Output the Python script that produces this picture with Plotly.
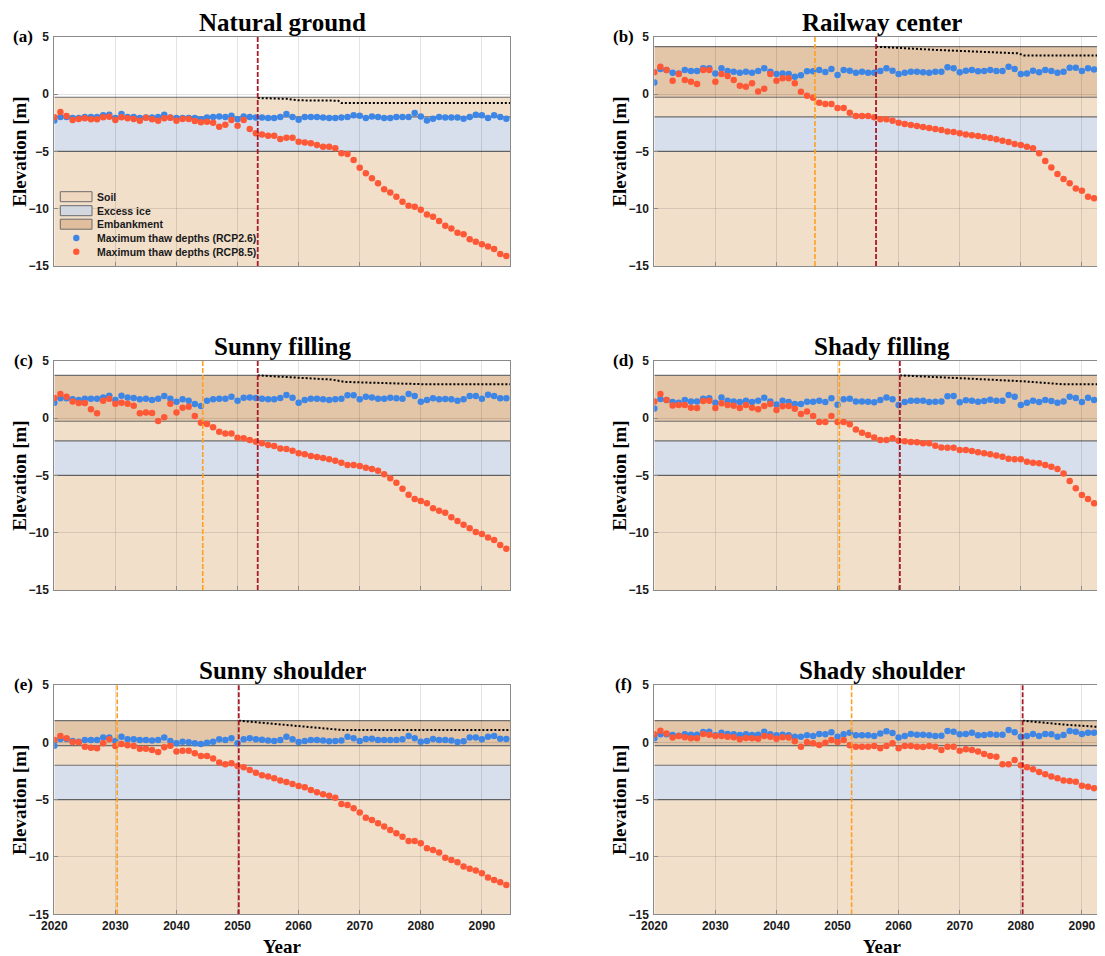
import plotly.graph_objects as go

# ---------------- data ----------------
years = list(range(2020, 2095))

titles = ["Natural ground", "Railway center", "Sunny filling",
          "Shady filling", "Sunny shoulder", "Shady shoulder"]
tags = ["(a)", "(b)", "(c)", "(d)", "(e)", "(f)"]

rcp26_a = [-2.3, -2.0, -2.0, -2.1, -2.1, -2.0, -2.0, -2.0, -1.85, -1.8,
           -2.1, -1.75, -2.0, -2.0, -2.1, -2.05, -2.05, -2.0, -1.8, -2.05,
           -2.1, -2.1, -2.1, -2.1, -2.2, -2.05, -2.0, -1.95, -2.0, -1.9,
           -2.2, -1.95, -2.0, -2.05, -2.05, -2.1, -2.1, -2.0, -1.75, -2.0,
           -2.25, -2.0, -2.0, -2.0, -2.05, -2.1, -2.1, -2.05, -2.0, -1.85,
           -1.9, -2.1, -1.95, -2.0, -2.1, -2.1, -2.0, -2.0, -2.0, -1.65,
           -1.95, -2.3, -2.15, -2.0, -2.05, -2.05, -2.05, -2.15, -2.0, -1.8,
           -1.85, -2.1, -1.85, -2.0, -2.15]
rcp85_a = [-2.03, -1.57, -1.92, -2.27, -2.18, -2.12, -2.2, -2.2, -2.03, -1.98,
           -2.27, -2.03, -2.12, -2.18, -2.33, -2.06, -2.2, -2.33, -2.12, -2.06,
           -2.33, -2.18, -2.18, -2.35, -2.47, -2.41, -2.5, -2.85, -2.67, -2.27,
           -2.76, -2.27, -3.05, -3.43, -3.52, -3.63, -3.63, -3.92, -3.81, -3.81,
           -4.16, -4.22, -4.3, -4.45, -4.59, -4.59, -4.74, -5.17, -5.23, -5.76,
           -6.42, -6.92, -7.35, -7.79, -8.31, -8.6, -8.95, -9.39, -9.74, -9.83,
           -10.1, -10.5, -10.7, -11.08, -11.48, -11.72, -12.09, -12.24, -12.67, -12.88,
           -13.11, -13.31, -13.52, -13.95, -14.13]

rcp26_b = [1.0, 2.18, 2.1, 1.86, 1.8, 2.1, 2.0, 2.0, 2.24, 2.24,
           1.8, 2.24, 2.0, 1.95, 1.86, 1.95, 1.86, 2.0, 2.24, 1.95,
           1.74, 1.8, 1.74, 1.5, 1.63, 1.98, 1.98, 2.1, 1.92, 2.18,
           1.66, 2.1, 2.03, 1.86, 1.95, 1.86, 1.86, 2.0, 2.24, 2.03,
           1.74, 1.86, 1.95, 1.95, 1.89, 1.86, 1.95, 1.95, 2.33, 2.24,
           1.89, 2.03, 2.1, 1.98, 2.0, 2.1, 2.0, 2.0, 2.38, 2.18,
           1.74, 1.8, 2.03, 1.89, 2.1, 2.0, 1.86, 1.95, 2.3, 2.3,
           2.0, 2.24, 2.15, 1.95, 2.0]
rcp85_b = [1.89, 2.38, 2.1, 1.16, 1.74, 1.22, 1.08, 0.87, 2.1, 2.1,
           1.08, 1.74, 1.57, 1.22, 0.73, 0.64, 0.93, 0.23, 0.47, 1.74,
           1.16, 1.37, 1.37, 0.93, 0.2, -0.15, -0.32, -0.76, -0.87, -0.87,
           -1.22, -1.22, -1.63, -1.92, -1.92, -1.92, -2.03, -2.2, -2.2, -2.33,
           -2.5, -2.62, -2.7, -2.79, -2.88, -2.97, -3.05, -3.14, -3.26, -3.31,
           -3.43, -3.52, -3.6, -3.66, -3.75, -3.84, -3.95, -4.07, -4.19, -4.36,
           -4.45, -4.59, -4.74, -5.17, -5.84, -6.4, -6.98, -7.41, -7.79, -8.23,
           -8.43, -8.95, -9.1, -9.39, -9.83]

rcp26_c = [1.34, 1.72, 1.72, 1.63, 1.57, 1.69, 1.69, 1.69, 1.8, 1.95,
           1.57, 1.95, 1.8, 1.74, 1.63, 1.69, 1.57, 1.69, 1.92, 1.69,
           1.42, 1.63, 1.51, 1.22, 1.05, 1.51, 1.63, 1.69, 1.69, 1.86,
           1.51, 1.77, 1.8, 1.74, 1.69, 1.63, 1.63, 1.74, 2.0, 1.77,
           1.34, 1.57, 1.69, 1.69, 1.63, 1.57, 1.63, 1.69, 1.98, 1.98,
           1.63, 1.86, 1.8, 1.69, 1.69, 1.77, 1.72, 1.69, 2.09, 1.92,
           1.42, 1.57, 1.72, 1.63, 1.66, 1.63, 1.51, 1.63, 1.92, 1.92,
           1.69, 2.03, 1.92, 1.72, 1.72]
rcp85_c = [1.74, 2.09, 1.86, 1.45, 1.31, 1.31, 0.76, 0.41, 1.51, 1.69,
           1.25, 1.34, 1.25, 1.08, 0.41, 0.49, 0.44, -0.26, 0.06, 1.25,
           0.49, 0.9, 0.99, 0.17, -0.41, -0.52, -0.81, -1.19, -1.34, -1.34,
           -1.72, -1.77, -1.92, -2.06, -2.21, -2.35, -2.44, -2.65, -2.7, -2.85,
           -3.08, -3.17, -3.31, -3.4, -3.49, -3.6, -3.72, -3.9, -4.1, -4.1,
           -4.19, -4.33, -4.45, -4.59, -4.91, -5.26, -5.64, -6.16, -6.69, -7.06,
           -7.24, -7.44, -7.88, -8.08, -8.26, -8.66, -8.98, -9.3, -9.62, -9.94,
           -10.12, -10.41, -10.64, -11.08, -11.4]

rcp26_d = [0.84, 1.66, 1.57, 1.4, 1.34, 1.57, 1.45, 1.45, 1.69, 1.72,
           1.34, 1.8, 1.51, 1.45, 1.4, 1.51, 1.4, 1.51, 1.77, 1.45,
           1.19, 1.51, 1.4, 1.22, 1.22, 1.42, 1.42, 1.51, 1.4, 1.72,
           1.16, 1.63, 1.69, 1.45, 1.45, 1.42, 1.37, 1.57, 1.8, 1.63,
           1.13, 1.4, 1.51, 1.51, 1.51, 1.4, 1.42, 1.45, 1.89, 1.92,
           1.37, 1.54, 1.51, 1.42, 1.48, 1.6, 1.51, 1.51, 2.0, 1.86,
           1.13, 1.34, 1.51, 1.4, 1.57, 1.48, 1.34, 1.45, 1.86, 1.74,
           1.4, 1.77, 1.57, 1.45, 1.5]
rcp85_d = [1.45, 2.09, 1.57, 1.1, 1.13, 1.13, 0.9, 0.87, 1.48, 1.51,
           0.87, 1.28, 1.13, 1.08, 0.87, 1.13, 0.9, 0.76, 1.05, 1.22,
           0.7, 1.02, 1.05, 0.81, 0.35, 0.58, 0.17, -0.35, -0.35, 0.17,
           -0.35, -0.35, -0.55, -0.99, -1.28, -1.48, -1.69, -1.92, -1.92, -1.77,
           -1.98, -2.03, -2.09, -2.12, -2.21, -2.21, -2.41, -2.56, -2.59, -2.59,
           -2.79, -2.79, -2.88, -2.99, -3.08, -3.17, -3.26, -3.37, -3.55, -3.6,
           -3.6, -3.81, -3.9, -3.95, -4.1, -4.24, -4.45, -4.83, -5.49, -6.13,
           -6.72, -7.06, -7.44, -7.88, -8.23]

rcp26_e = [-0.29, 0.29, 0.29, 0.12, 0.06, 0.2, 0.2, 0.2, 0.41, 0.41,
           0.12, 0.49, 0.26, 0.26, 0.2, 0.2, 0.15, 0.2, 0.41, 0.12,
           -0.09, 0.06, 0.0, -0.09, -0.15, -0.03, 0.06, 0.26, 0.2, 0.35,
           -0.09, 0.26, 0.35, 0.26, 0.23, 0.15, 0.12, 0.2, 0.49, 0.26,
           0.03, 0.12, 0.2, 0.2, 0.15, 0.09, 0.12, 0.15, 0.49, 0.35,
           0.12, 0.29, 0.32, 0.2, 0.2, 0.2, 0.2, 0.26, 0.55, 0.35,
           0.06, 0.12, 0.29, 0.2, 0.2, 0.15, 0.03, 0.09, 0.41, 0.41,
           0.26, 0.49, 0.55, 0.32, 0.29]
rcp85_e = [0.2, 0.55, 0.35, 0.03, 0.0, -0.38, -0.47, -0.52, -0.09, 0.26,
           -0.32, -0.15, -0.26, -0.32, -0.55, -0.55, -0.67, -0.84, -0.44, -0.29,
           -0.81, -0.73, -0.73, -0.96, -1.19, -1.19, -1.4, -1.77, -1.92, -1.83,
           -2.06, -2.18, -2.41, -2.65, -2.88, -2.99, -3.14, -3.34, -3.46, -3.63,
           -3.81, -3.92, -4.16, -4.36, -4.53, -4.65, -4.83, -5.38, -5.47, -5.76,
           -6.13, -6.57, -6.77, -7.06, -7.35, -7.65, -7.94, -8.23, -8.6, -8.6,
           -8.81, -9.24, -9.39, -9.62, -10.06, -10.26, -10.47, -10.84, -11.02, -11.19,
           -11.42, -11.8, -12.0, -12.21, -12.44]

rcp26_f = [0.35, 0.7, 0.7, 0.64, 0.58, 0.7, 0.67, 0.67, 0.9, 0.93,
           0.61, 0.84, 0.73, 0.7, 0.64, 0.7, 0.64, 0.67, 0.93, 0.7,
           0.61, 0.67, 0.61, 0.49, 0.49, 0.61, 0.55, 0.73, 0.7, 0.87,
           0.49, 0.7, 0.84, 0.61, 0.61, 0.61, 0.55, 0.78, 0.96, 0.81,
           0.41, 0.55, 0.73, 0.67, 0.67, 0.61, 0.55, 0.58, 0.99, 0.93,
           0.7, 0.73, 0.84, 0.61, 0.64, 0.7, 0.67, 0.67, 1.08, 0.87,
           0.49, 0.55, 0.73, 0.55, 0.73, 0.7, 0.49, 0.64, 0.99, 0.93,
           0.73, 0.84, 0.84, 0.55, 0.6]
rcp85_f = [0.7, 1.02, 0.78, 0.41, 0.55, 0.44, 0.35, 0.35, 0.73, 0.67,
           0.55, 0.55, 0.49, 0.44, 0.26, 0.38, 0.35, 0.32, 0.55, 0.49,
           0.32, 0.44, 0.41, 0.09, -0.38, 0.0, -0.09, -0.23, -0.03, 0.2,
           0.03, 0.2, -0.26, -0.38, -0.38, -0.38, -0.32, -0.52, -0.32, -0.09,
           -0.52, -0.32, -0.32, -0.38, -0.41, -0.32, -0.38, -0.67, -0.38, -0.38,
           -0.73, -0.61, -0.67, -0.81, -1.02, -1.19, -1.25, -1.92, -1.92, -1.54,
           -2.0, -2.18, -2.35, -2.59, -2.79, -2.99, -3.14, -3.34, -3.37, -3.43,
           -3.78, -3.87, -4.01, -4.16, -4.27]

# critical years (vertical dashed lines): RCP2.6 (orange) and RCP8.5 (dark red)
crit_rcp26 = [None, 2046.3, 2044.3, 2050.3, 2030.3, 2052.3]
crit_rcp85 = [2053.3, 2056.3, 2053.3, 2060.2, 2050.2, 2080.3]

# surface settlement after thawing reaches the ice layer (dotted line)
settle_x = [[2053.3, 2058, 2060, 2066.5, 2067, 2094.6],
            [2056.3, 2060, 2066, 2072, 2079.5, 2080.5, 2094.6],
            [2053.3, 2058, 2065.5, 2067.5, 2080, 2081, 2094.6],
            [2060.2, 2066, 2073, 2080.5, 2086, 2087, 2094.6],
            [2050.2, 2055, 2060, 2066, 2067, 2094.6],
            [2080.3, 2083, 2087, 2092, 2094.6]]
settle_y = [[-0.35, -0.42, -0.55, -0.58, -0.78, -0.78],
            [4.13, 4.0, 3.85, 3.72, 3.55, 3.37, 3.37],
            [3.72, 3.6, 3.35, 3.15, 3.0, 2.94, 2.94],
            [3.72, 3.6, 3.4, 3.2, 3.0, 2.94, 2.94],
            [1.89, 1.65, 1.42, 1.15, 1.08, 1.08],
            [1.89, 1.75, 1.55, 1.37, 1.3]]

# layer boundaries [m]
embankment_top = [None, 4.13, 3.72, 3.72, 1.89, 1.89]
ground_surface = -0.28
ice_top = -2.0
ice_bottom = -5.0
model_bottom = -15.0

rcp26 = [rcp26_a, rcp26_b, rcp26_c, rcp26_d, rcp26_e, rcp26_f]
rcp85 = [rcp85_a, rcp85_b, rcp85_c, rcp85_d, rcp85_e, rcp85_f]

# ---------------- style ----------------
WIN_W, WIN_H = 1105, 956
BODY = 8                      # default page margin around the plot div
W, H = WIN_W - BODY, WIN_H - BODY
C_SOIL = "#F1DFCA"
C_ICE = "#D6DFEB"
C_EMB = "#E3C6A8"
C_BLUE = "#3E86E6"
C_RED = "#FF5836"
C_ORANGE = "#FFA11E"
C_DARKRED = "#A81A28"
C_EDGE = "#6E6E6E"
SERIF = "Liberation Serif"
SANS = "Liberation Sans"


def px(xw):
    return (xw - BODY) / W


def py(yw):
    return 1 - (yw - BODY) / H


left_px = [54.3, 654.3]
px_per_year = (510.0 - 54.3) / 74.6
row_top_px = [36.7, 360.7, 685.0]
row_bot_px = [266.0, 590.0, 914.3]

fig = go.Figure()
layout_axes = {}
shapes = []
annotations = []

for i in range(6):
    row, col = i // 2, i % 2
    n = i + 1
    xa = "x" if n == 1 else f"x{n}"
    ya = "y" if n == 1 else f"y{n}"
    x0px = left_px[col]
    x1px = min(x0px + 74.6 * px_per_year, WIN_W)
    xmax = 2020 + (x1px - x0px) / px_per_year
    xdom = [px(x0px), min(px(x1px), 1.0)]
    ydom = [py(row_bot_px[row]), py(row_top_px[row])]

    axis_common = dict(
        ticks="inside", ticklen=4, tickcolor="#8a8a8a",
        showline=True, linecolor="#8a8a8a", linewidth=1,
        showgrid=True, gridcolor="rgba(0,0,0,0.11)", gridwidth=1,
        zeroline=False, automargin=False,
        tickfont=dict(family=SANS, size=12, color="#1a1a1a", weight="bold"),
    )
    layout_axes["xaxis" if n == 1 else f"xaxis{n}"] = dict(
        domain=xdom, range=[2020, xmax], anchor=ya,
        tick0=2020, dtick=10, mirror=True, showticklabels=(row == 2), **axis_common)
    layout_axes["yaxis" if n == 1 else f"yaxis{n}"] = dict(
        domain=ydom, range=[-15, 5], anchor=xa,
        tickvals=[-15, -10, -5, 0, 5], mirror=(col == 0), ticklabelstandoff=2, **axis_common)

    def band(y0, y1, color):
        shapes.append(dict(type="rect", xref=xa, yref=ya, x0=2020, x1=2094.6, y0=y0, y1=y1,
                           fillcolor=color, line_width=0, layer="below"))
    band(model_bottom, ice_bottom, C_SOIL)
    band(ice_bottom, ice_top, C_ICE)
    band(ice_top, ground_surface, C_SOIL)
    bounds = [ice_bottom, ice_top, ground_surface]
    if embankment_top[i] is not None:
        band(ground_surface, embankment_top[i], C_EMB)
        bounds.append(embankment_top[i])
    for b in bounds:
        shapes.append(dict(type="line", xref=xa, yref=ya, x0=2020, x1=2094.6, y0=b, y1=b,
                           line=dict(color=C_EDGE, width=1.2), layer="below"))

    fig.add_trace(go.Scatter(x=years, y=rcp26[i], mode="markers", xaxis=xa, yaxis=ya,
                             marker=dict(color=C_BLUE, size=6.5, line_width=0),
                             showlegend=False, name="Maximum thaw depths (RCP2.6)"))
    fig.add_trace(go.Scatter(x=years, y=rcp85[i], mode="markers", xaxis=xa, yaxis=ya,
                             marker=dict(color=C_RED, size=6.5, line_width=0),
                             showlegend=False, name="Maximum thaw depths (RCP8.5)"))
    fig.add_trace(go.Scatter(x=settle_x[i], y=settle_y[i], mode="lines", xaxis=xa, yaxis=ya,
                             line=dict(color="black", width=2, dash="2px,2px"),
                             showlegend=False))
    if crit_rcp26[i] is not None:
        fig.add_trace(go.Scatter(x=[crit_rcp26[i]] * 2, y=[-15, 5], mode="lines", xaxis=xa, yaxis=ya,
                                 line=dict(color=C_ORANGE, width=1.6, dash="5px,2px"),
                                 showlegend=False))
    fig.add_trace(go.Scatter(x=[crit_rcp85[i]] * 2, y=[-15, 5], mode="lines", xaxis=xa, yaxis=ya,
                             line=dict(color=C_DARKRED, width=1.8, dash="5px,2px"),
                             showlegend=False))

    cxw = x0px + 74.6 * px_per_year / 2
    annotations.append(dict(text=titles[i], xref="paper", yref="paper", x=px(cxw), y=ydom[1],
                            xanchor="center", yanchor="bottom", yshift=-1, showarrow=False,
                            font=dict(family=SERIF, size=25, color="black", weight="bold")))
    annotations.append(dict(text=tags[i], xref="paper", yref="paper", x=px(x0px - 31),
                            y=py(row_top_px[row] - 0.5), xanchor="center", yanchor="middle",
                            showarrow=False,
                            font=dict(family=SERIF, size=17, color="black", weight="bold")))
    annotations.append(dict(text="Elevation [m]", xref="paper", yref="paper", x=px(x0px - 35),
                            y=(ydom[0] + ydom[1]) / 2, xanchor="center", yanchor="middle",
                            textangle=-90, showarrow=False,
                            font=dict(family=SERIF, size=19, color="black", weight="bold")))
    if row == 2:
        annotations.append(dict(text="Year", xref="paper", yref="paper", x=px(cxw),
                                y=py(946.0), xanchor="center", yanchor="middle",
                                showarrow=False,
                                font=dict(family=SERIF, size=19, color="black", weight="bold")))

# ---------------- legend (inside panel a) ----------------
legend_labels = ["Soil", "Excess ice", "Embankment",
                 "Maximum thaw depths (RCP2.6)", "Maximum thaw depths (RCP8.5)"]
legend_fill = ["#F0D8C0", "#D3D7DF", "#E1BF9E", C_BLUE, C_RED]
leg_y = [196.7, 210.7, 224.2, 238.0, 251.7]
for lab, colr, yy in zip(legend_labels, legend_fill, leg_y):
    if lab.startswith("Maximum"):
        shapes.append(dict(type="circle", xref="paper", yref="paper",
                           x0=px(76.3 - 3.2), x1=px(76.3 + 3.2),
                           y0=py(yy + 3.2), y1=py(yy - 3.2),
                           fillcolor=colr, line_width=0, layer="above"))
    else:
        shapes.append(dict(type="rect", xref="paper", yref="paper",
                           x0=px(60.3), x1=px(92.0), y0=py(yy + 5), y1=py(yy - 5),
                           fillcolor=colr, line=dict(color="#6a6a6a", width=1), layer="above"))
    annotations.append(dict(text=lab, xref="paper", yref="paper", x=px(95.3), y=py(yy),
                            xanchor="left", yanchor="middle", showarrow=False,
                            font=dict(family=SANS, size=10.5, color="#1a1a1a", weight="bold")))

fig.update_layout(
    width=W, height=H, margin=dict(l=0, r=0, t=0, b=0, autoexpand=False),
    paper_bgcolor="white", plot_bgcolor="white",
    showlegend=False, shapes=shapes, annotations=annotations,
    **layout_axes,
)

fig.write_html("out.html")
